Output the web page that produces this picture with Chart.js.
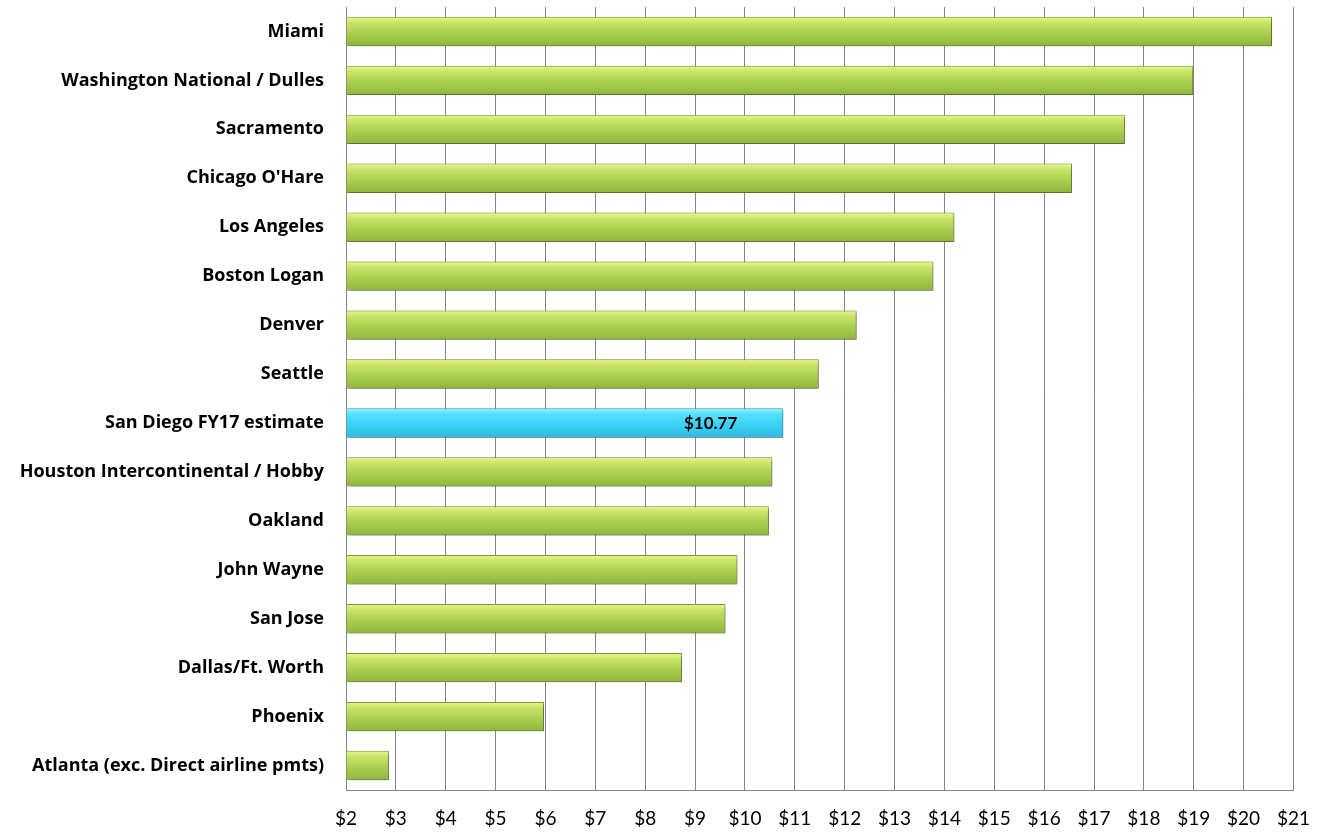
<!DOCTYPE html>
<html>
<head>
<meta charset="utf-8">
<script src="https://cdn.jsdelivr.net/npm/chart.js@4"></script>
<style>
  html, body { margin: 0; padding: 0; background: #fff; }
  #wrap { width: 1327px; height: 836px; position: relative; }
</style>
</head>
<body>
<div id="wrap"><canvas id="chart"></canvas></div>
<script>
// Airports, top to bottom as in the picture
const airports = [
  'Miami',
  'Washington National / Dulles',
  'Sacramento',
  "Chicago O'Hare",
  'Los Angeles',
  'Boston Logan',
  'Denver',
  'Seattle',
  'San Diego FY17 estimate',
  'Houston Intercontinental / Hobby',
  'Oakland',
  'John Wayne',
  'San Jose',
  'Dallas/Ft. Worth',
  'Phoenix',
  'Atlanta (exc. Direct airline pmts)'
];

// Cost per enplanement
const costs = [20.57, 18.99, 17.62, 16.56, 14.2, 13.78, 12.24, 11.48, 10.77, 10.55, 10.48, 9.85, 9.61, 8.74, 5.97, 2.86];

// The highlighted bar and its label
const highlightName = 'San Diego FY17 estimate';
const highlightLabel = '$10.77';

// x axis range
const xMin = 2;
const xMax = 21;

const barPct = 0.6;

// glossy gradient per bar, built from the y scale
function barFill(ctx) {
  const chart = ctx.chart;
  const y = chart.scales.y;
  const isHi = airports[ctx.dataIndex] === highlightName;
  if (!y || y.height == null || !chart.chartArea) return isHi ? '#3fd3f7' : '#a6cc4f';
  const cy = y.getPixelForValue(ctx.dataIndex);
  const h = (y.height / airports.length) * barPct;
  const g = chart.ctx.createLinearGradient(0, cy - h / 2, 0, cy + h / 2);
  if (isHi) {
    g.addColorStop(0, '#8ff6ff');
    g.addColorStop(0.2, '#55e0fb');
    g.addColorStop(0.55, '#3bd2f7');
    g.addColorStop(1, '#2fb9e3');
  } else {
    g.addColorStop(0, '#eaf78a');
    g.addColorStop(0.2, '#c8e46a');
    g.addColorStop(0.55, '#abd04f');
    g.addColorStop(1, '#8eb63c');
  }
  return g;
}

const shadowPlugin = {
  id: 'barShadow',
  beforeDatasetsDraw(chart) {
    const c = chart.ctx;
    c.save();
    c.shadowColor = 'rgba(0,0,0,0.35)';
    c.shadowBlur = 4;
    c.shadowOffsetX = 2;
    c.shadowOffsetY = 2;
  },
  afterDatasetsDraw(chart) {
    chart.ctx.restore();
    // value label inside the highlighted bar
    const meta = chart.getDatasetMeta(0);
    const i = airports.indexOf(highlightName);
    const el = meta.data[i];
    if (!el) return;
    const c = chart.ctx;
    c.save();
    c.font = 'bold 17px Lato, "Open Sans", sans-serif';
    c.fillStyle = '#000';
    c.textAlign = 'right';
    c.textBaseline = 'middle';
    c.fillText(highlightLabel, el.x - 46, el.y + 1);
    c.restore();
  }
};

new Chart(document.getElementById('chart'), {
  type: 'bar',
  plugins: [shadowPlugin],
  data: {
    labels: airports,
    datasets: [{
      data: costs,
      backgroundColor: barFill,
      borderColor: (ctx) => airports[ctx.dataIndex] === highlightName ? '#2aa6cc' : '#7d9d37',
      borderWidth: 1,
      borderSkipped: 'start',
      categoryPercentage: barPct,
      barPercentage: 1,
      base: xMin
    }]
  },
  options: {
    indexAxis: 'y',
    responsive: true,
    maintainAspectRatio: false,
    animation: false,
    layout: { padding: { top: 7, right: 30, bottom: 0, left: 0 } },
    plugins: {
      legend: { display: false },
      tooltip: { enabled: false }
    },
    scales: {
      x: {
        min: xMin,
        max: xMax,
        ticks: {
          stepSize: 1,
          padding: 17,
          color: '#000',
          font: { family: 'Lato, "Open Sans", sans-serif', size: 19 },
          callback: (v) => '$' + v
        },
        grid: { color: '#858585', lineWidth: 1, drawTicks: false },
        border: { display: true, color: '#858585' },
        afterFit(scale) { scale.height = 46; }
      },
      y: {
        ticks: {
          padding: 22,
          color: '#000',
          font: { family: '"Open Sans", Lato, sans-serif', size: 18, weight: 'bold' }
        },
        grid: { display: false, drawTicks: false },
        border: { display: true, color: '#858585' },
        afterFit(scale) {
          scale.width = 346;
          scale.paddingTop = 0;
          scale.paddingBottom = 0;
        }
      }
    }
  }
});
</script>
</body>
</html>
